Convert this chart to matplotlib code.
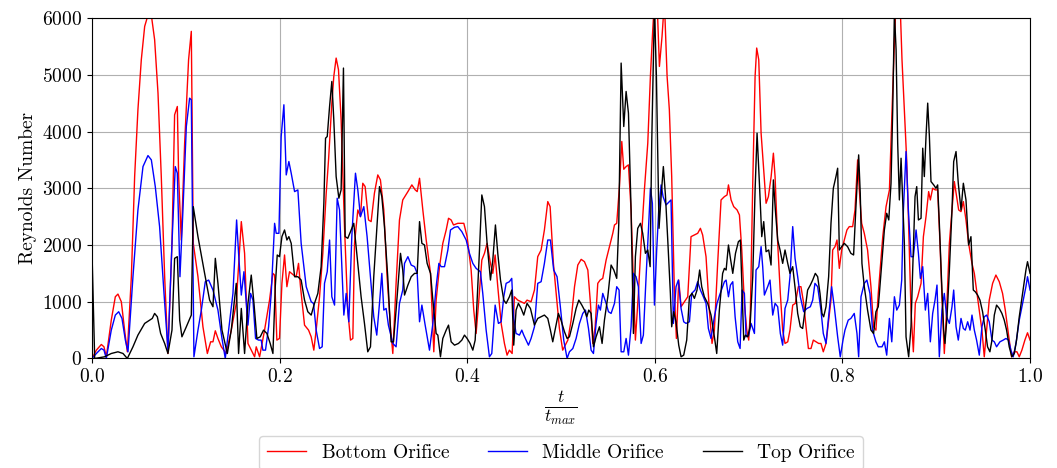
import matplotlib
matplotlib.use("Agg")
import matplotlib.pyplot as plt

plt.rcParams['font.family'] = 'serif'
plt.rcParams['font.serif'] = ['cmr10']
plt.rcParams['mathtext.fontset'] = 'cm'
plt.rcParams['axes.formatter.use_mathtext'] = True
plt.rcParams['font.size'] = 14

# Reynolds number at the three orifices vs normalised time
t_bottom = [0.0, 0.0047, 0.0100, 0.0128, 0.0153, 0.0206, 0.0249, 0.0277, 0.0313, 0.0348,
            0.0377, 0.042, 0.0455, 0.049, 0.0526, 0.0562, 0.0597, 0.0633, 0.0668, 0.0704,
            0.0739, 0.0775, 0.081, 0.0853, 0.0881, 0.091, 0.0924, 0.0952, 0.0988, 0.103,
            0.1059, 0.108, 0.113, 0.1183, 0.123, 0.1265, 0.129, 0.1315, 0.1343, 0.1379,
            0.1432, 0.1485, 0.1538, 0.1592,
            0.1627, 0.1663, 0.1698, 0.1734, 0.1751, 0.1787, 0.184, 0.1893, 0.1929, 0.1947,
            0.1971, 0.1999, 0.2025, 0.2053, 0.2078, 0.2106, 0.2149, 0.2177, 0.2202, 0.2223,
            0.2266, 0.2309, 0.2337, 0.2365, 0.239, 0.2426, 0.2461, 0.2497, 0.2522, 0.2557,
            0.2578, 0.2603, 0.2628, 0.2656, 0.2692, 0.2727, 0.2756, 0.2781, 0.2799, 0.2834,
            0.2862, 0.2887, 0.2912, 0.2948, 0.2976, 0.3011, 0.3047, 0.3075, 0.3111, 0.3146,
            0.3182, 0.3207, 0.3242, 0.3278, 0.3313,
            0.3368, 0.341, 0.3446, 0.3467, 0.3492, 0.3527, 0.3563, 0.3609, 0.3644, 0.3669,
            0.3705, 0.374, 0.3776, 0.3801, 0.3829, 0.3854, 0.39, 0.3964, 0.3999, 0.4042,
            0.407, 0.4095, 0.4124, 0.4156, 0.4184, 0.4212, 0.4248, 0.4273, 0.4298, 0.4326,
            0.4362, 0.4397, 0.4425, 0.445, 0.4479, 0.4503, 0.4539, 0.4575, 0.461, 0.4638,
            0.4681, 0.4717, 0.4752, 0.4788, 0.4823, 0.4859, 0.4884, 0.4919, 0.4955, 0.4983,
            0.5018,
            0.5073, 0.5108, 0.5144, 0.5179, 0.5215, 0.525, 0.5286, 0.5314, 0.5339, 0.5364,
            0.5392, 0.5417, 0.5445, 0.5481, 0.5516, 0.5552, 0.557, 0.5594, 0.5623, 0.5648,
            0.5669, 0.5694, 0.5719, 0.5747, 0.5772, 0.5793, 0.5825, 0.5854, 0.5889, 0.5925,
            0.5953, 0.5978, 0.5996, 0.6024, 0.6049, 0.6077, 0.6102, 0.6131, 0.6155, 0.618,
            0.6209, 0.623, 0.6255, 0.628, 0.6315, 0.6351, 0.6386, 0.6422, 0.6457, 0.6486,
            0.651, 0.6546, 0.6581, 0.661, 0.6635, 0.667, 0.6706,
            0.6742, 0.677, 0.6785, 0.6813, 0.6841, 0.6877, 0.6902, 0.6927, 0.6955, 0.698,
            0.7001, 0.7019, 0.7044, 0.7069, 0.7086, 0.7108, 0.7133, 0.7161, 0.7186, 0.7211,
            0.724, 0.7264, 0.7282, 0.731, 0.7338, 0.7363, 0.7388, 0.7417, 0.7441, 0.747,
            0.7498, 0.753, 0.7558, 0.7587, 0.7612, 0.7637, 0.7665, 0.769, 0.7718, 0.7747,
            0.7771, 0.7796, 0.7825, 0.7853, 0.7878, 0.7896, 0.7921, 0.7942, 0.7967, 0.7992,
            0.802, 0.8048, 0.8073, 0.8109, 0.8134, 0.8162, 0.818, 0.8205, 0.8233, 0.8268,
            0.8304, 0.8332, 0.8357, 0.8382,
            0.843, 0.8465, 0.8501, 0.8529, 0.8554, 0.8572, 0.8614, 0.8635, 0.866, 0.8685,
            0.8706, 0.8731, 0.8756, 0.8777, 0.8802, 0.8838, 0.8863, 0.8891, 0.8919, 0.8937,
            0.8962, 0.899, 0.9015, 0.904, 0.9061, 0.9086, 0.9111, 0.914, 0.9168, 0.9193,
            0.9218, 0.9239, 0.9264, 0.9289, 0.9317, 0.9345, 0.9381, 0.9406, 0.943, 0.9459,
            0.9487, 0.9512, 0.9537, 0.9565, 0.9601, 0.9636, 0.9672, 0.9707, 0.9736, 0.9771,
            0.9803, 0.9832, 0.986, 0.9885, 0.9913, 0.9945, 0.9973, 1.0]
re_bottom = [0, 147, 247, 206, 30, 676, 1088, 1135, 1000, 500,
             118, 1441, 3206, 4382, 5265, 5853, 6050, 6050, 5618, 4676,
             3206, 1441, 88, 2030, 4294, 4441, 3206, 2088, 3794, 5265,
             5765, 2030, 1441, 559, 88, 294, 294, 488, 353, 206,
             88, 500, 970, 2412,
             1853, 265, 147, 30, 206, 30, 500, 1029, 1500, 1470,
             324, 353, 1324, 1824, 1265, 1529, 1470, 1441, 1676, 1265,
             588, 500, 382, 147, 500, 1088, 1853, 2912, 3500, 4500,
             4971, 5294, 5088, 4206, 2324, 853, 324, 353, 2030, 2618,
             2500, 3088, 3029, 2441, 2412, 2912, 3235, 3147, 2618, 1441,
             559, 88, 1324, 2441, 2794,
             2941, 3059, 2971, 2941, 3176, 2618, 2088, 1500, 118, 1029,
             1618, 2029, 2265, 2471, 2441, 2353, 2382, 2382, 2147, 1559,
             853, 441, 1029, 1735, 1853, 2029, 1676, 1500, 1824, 1265,
             618, 265, 59, 147, 88, 1088, 1029, 1000, 971, 1029,
             1000, 1206, 1794, 1912, 2265, 2765, 2676, 1676, 1029, 529,
             147,
             324, 676, 1265, 1647, 1747, 1706, 1559, 971, 265, 559,
             1324, 1382, 1412, 1735, 1971, 2206, 2353, 2382, 3029, 3824,
             3335, 3382, 3412, 2618, 1324, 324, 1147, 2029, 2971, 3794,
             4971, 5794, 6300, 6300, 5147, 5676, 6300, 4971, 4382, 3206,
             1147, 353, 1382, 912, 1000, 1088, 2147, 2176, 2206, 2294,
             2176, 1794, 853, 265, 500, 1676, 2794,
             2853, 2882, 3059, 2794, 2676, 2618, 2529, 1912, 971, 500,
             324, 853, 3088, 4971, 5471, 5265, 3971, 3324, 2735, 2853,
             3206, 3618, 3206, 2029, 1147, 500, 265, 294, 500, 941,
             971, 1265, 1265, 971, 559, 176, 176, 324, 294, 265,
             265, 118, 265, 676, 1029, 1912, 1971, 2088, 1588, 1912,
             2088, 2265, 2324, 2324, 2618, 3500, 2971, 2382, 2206, 1912,
             1265, 559, 500, 1147,
             2147, 2676, 2971, 4382, 5559, 6300, 6300, 5265, 4382, 3500,
             2324, 853, 118, 971, 1088, 1324, 2147, 2500, 2941, 2794,
             3000, 2971, 2971, 2029, 1088, 88, 853, 2029, 2618, 3118,
             2853, 2618, 2588, 2765, 2441, 2029, 1676, 1500, 1206, 853,
             500, 30, 500, 1029, 1324, 1470, 1353, 1147, 853, 412,
             30, 118, 118, 30, 147, 324, 453, 324]

t_middle = [0.0, 0.0047, 0.01, 0.0128, 0.0153, 0.0206, 0.0249, 0.0285, 0.032, 0.0356,
            0.0384, 0.0437, 0.049, 0.0544, 0.0597, 0.0633, 0.0675, 0.0721, 0.0768, 0.081,
            0.0853, 0.0888, 0.091, 0.0938, 0.097, 0.1006, 0.1041, 0.1059, 0.1087, 0.113,
            0.1166, 0.1208, 0.1244, 0.129, 0.1343, 0.1386, 0.1421, 0.1457, 0.1503, 0.1542,
            0.1563, 0.1592, 0.162,
            0.1663, 0.1691, 0.1716, 0.1744, 0.1776, 0.1804, 0.1822, 0.185, 0.1883, 0.1911,
            0.1947, 0.1964, 0.1993, 0.2017, 0.2046, 0.2071, 0.2099, 0.2124, 0.216, 0.2195,
            0.223, 0.2284, 0.2337, 0.2362, 0.239, 0.2426, 0.2454, 0.2479, 0.2508, 0.2533,
            0.2557, 0.2586, 0.2614, 0.2639, 0.2685, 0.271, 0.2738, 0.277, 0.2809, 0.2834,
            0.2862, 0.2898, 0.2933, 0.2969, 0.3004, 0.3036, 0.3065, 0.309, 0.3111, 0.3136,
            0.316, 0.3207, 0.3242, 0.3278, 0.3313,
            0.3332, 0.3368, 0.3403, 0.3439, 0.3467, 0.3492, 0.3517, 0.3552, 0.3598, 0.3634,
            0.3669, 0.3698, 0.3723, 0.3758, 0.3794, 0.3822, 0.3865, 0.39, 0.3943, 0.3989,
            0.4024, 0.406, 0.4095, 0.4141, 0.4166, 0.4202, 0.4237, 0.4262, 0.4298, 0.4333,
            0.4362, 0.439, 0.4415, 0.445, 0.4475, 0.4496, 0.4521, 0.4557, 0.4582, 0.4603,
            0.4628, 0.4653, 0.4681, 0.4717, 0.4752, 0.4788, 0.4823, 0.4859, 0.4887, 0.4922,
            0.4958, 0.4993, 0.5029,
            0.5065, 0.509, 0.5126, 0.5161, 0.5197, 0.5232, 0.5261, 0.5293, 0.5321, 0.5346,
            0.5374, 0.5399, 0.542, 0.5445, 0.5481, 0.5506, 0.5534, 0.557, 0.5594, 0.5619,
            0.5641, 0.5669, 0.5694, 0.5719, 0.5747, 0.5772, 0.58, 0.5825, 0.5854, 0.5878,
            0.5907, 0.5932, 0.5953, 0.5974, 0.5996, 0.602, 0.6042, 0.6067, 0.6088, 0.612,
            0.6155, 0.6173, 0.6198, 0.6226, 0.6251, 0.628, 0.6308, 0.6333, 0.6369, 0.6393,
            0.6429, 0.6457, 0.6486, 0.651, 0.6546, 0.6571, 0.6599, 0.6635, 0.6663, 0.6691,
            0.6723,
            0.6742, 0.676, 0.6785, 0.6806, 0.6831, 0.6856, 0.6884, 0.6909, 0.693, 0.6955,
            0.6973, 0.7001, 0.7026, 0.7062, 0.7079, 0.7108, 0.7133, 0.715, 0.7168, 0.7203,
            0.7228, 0.7257, 0.7282, 0.731, 0.7338, 0.7363, 0.7388, 0.7417, 0.7441, 0.747,
            0.7495, 0.7523, 0.7551, 0.7587, 0.7622, 0.7658, 0.7683, 0.7707, 0.7736, 0.7771,
            0.7796, 0.7825, 0.7849, 0.7885, 0.7913, 0.7949, 0.7977, 0.8006, 0.8027, 0.8062,
            0.809, 0.8126, 0.8155, 0.8173, 0.8198, 0.8233, 0.8261, 0.8293, 0.8321, 0.8357,
            0.8382,
            0.8422, 0.8447, 0.8472, 0.8501, 0.8526, 0.8554, 0.8579, 0.8607, 0.8632, 0.865,
            0.8678, 0.8703, 0.8731, 0.8756, 0.8785, 0.881, 0.8831, 0.8856, 0.8884, 0.8909,
            0.8937, 0.8962, 0.8987, 0.9008, 0.9033, 0.9061, 0.9086, 0.9111, 0.914, 0.9168,
            0.9186, 0.9211, 0.9235, 0.9264, 0.9289, 0.931, 0.9335, 0.936, 0.9381, 0.9406,
            0.943, 0.9459, 0.9487, 0.9512, 0.9537, 0.9565, 0.9594, 0.9619, 0.9643, 0.9679,
            0.9714, 0.9743, 0.9771, 0.9796, 0.9821, 0.985, 0.9885, 0.9921, 0.9956, 0.9973,
            1.0]
re_middle = [0, 88, 176, 147, 0, 500, 765, 824, 706, 324,
             118, 1441, 2618, 3382, 3576, 3500, 3029, 2324, 1147, 147,
             2030, 3382, 3265, 1441, 2618, 4088, 4588, 4559, 30, 500,
             853, 1353, 1382, 1206, 853, 353, 0, 500, 1147, 2441,
             1853, 1118, 1529,
             588, 1147, 1029, 353, 324, 324, 147, 147, 559, 1147,
             2382, 2206, 2206, 3912, 4471, 3235, 3471, 3265, 2941, 2971,
             2029, 1265, 1000, 971, 500, 176, 206, 1324, 1529, 2088,
             1088, 941, 2824, 2618, 765, 1147, 647, 2147, 3265, 2971,
             2500, 2676, 2147, 1441, 735, 412, 971, 1500, 853, 882,
             588, 265, 206, 971, 1206,
             1676, 1794, 1647, 1618, 1500, 647, 941, 588, 147, 618,
             1265, 1676, 1618, 1618, 1912, 2265, 2312, 2324, 2235, 2088,
             1853, 1676, 1588, 1529, 1147, 500, 30, 88, 941, 618,
             647, 1088, 1324, 1353, 1412, 706, 441, 412, 500, 412,
             324, 235, 353, 559, 1324, 1353, 1676, 2088, 2088, 1559,
             1441, 912, 324,
             0, 118, 176, 353, 618, 794, 853, 529, 147, 88,
             618, 941, 853, 1147, 971, 824, 794, 971, 1265, 1206,
             118, 118, 353, 59, 559, 1500, 1441, 1265, 265, 412,
             1441, 2265, 3000, 2735, 941, 1912, 2618, 3059, 2853, 2706,
             2765, 2794, 618, 1265, 1382, 882, 647, 618, 647, 1147,
             1206, 1353, 1206, 1118, 971, 529, 353, 735, 971, 1118,
             1265,
             1353, 1382, 1088, 1294, 1353, 735, 294, 176, 1206, 1147,
             382, 412, 618, 441, 1559, 1618, 1971, 1618, 1118, 1265,
             1382, 765, 971, 912, 441, 235, 882, 1029, 1441, 2324,
             1765, 1441, 1088, 824, 882, 912, 1029, 1324, 1265, 853,
             441, 265, 676, 1265, 912, 382, 30, 324, 500, 676,
             706, 794, 441, 30, 1088, 1324, 1382, 1147, 500, 294,
             206,
             206, 294, 59, 706, 294, 1088, 853, 941, 1382, 2618,
             3647, 2618, 1794, 1794, 2265, 1853, 1412, 1618, 853, 1147,
             294, 794, 1029, 1294, 30, 853, 1147, 735, 618, 912,
             1206, 559, 324, 706, 529, 500, 647, 500, 765, 500,
             324, 59, 559, 735, 765, 647, 324, 294, 206, 294,
             324, 353, 324, 147, 30, 265, 676, 971, 1265, 1441,
             1206]

t_top = [0.0, 0.0029, 0.0135, 0.0206, 0.0277, 0.0331, 0.0377, 0.0437, 0.049, 0.0562,
         0.0615, 0.0643, 0.0668, 0.0697, 0.0732, 0.0775, 0.081, 0.0853, 0.0881, 0.091,
         0.0935, 0.0959, 0.1006, 0.1059, 0.108, 0.113, 0.1201, 0.1254, 0.129, 0.1315,
         0.1343, 0.1386, 0.1443, 0.1485, 0.1538, 0.1563, 0.1592,
         0.1627, 0.1663, 0.1698, 0.1727, 0.1758, 0.1794, 0.1829, 0.1865, 0.19, 0.1929,
         0.1954, 0.1975, 0.1999, 0.2025, 0.2053, 0.2078, 0.2099, 0.2124, 0.216, 0.2195,
         0.223, 0.2266, 0.2301, 0.2337, 0.2372, 0.2408, 0.2443, 0.2472, 0.249, 0.2508,
         0.2533, 0.2557, 0.2578, 0.2603, 0.2632, 0.2656, 0.2681, 0.2699, 0.2727, 0.2756,
         0.2791, 0.2834, 0.2869, 0.2905, 0.294, 0.2969, 0.3004, 0.304, 0.3065, 0.309,
         0.3118, 0.3153, 0.3189, 0.3214, 0.3242, 0.3289, 0.3313,
         0.3332, 0.3368, 0.3403, 0.3439, 0.3467, 0.3492, 0.3517, 0.3545, 0.3573, 0.3609,
         0.3634, 0.3669, 0.3687, 0.3715, 0.374, 0.3776, 0.3801, 0.3829, 0.3865, 0.3907,
         0.3943, 0.3971, 0.3999, 0.4031, 0.406, 0.4085, 0.4106, 0.4131, 0.4156, 0.4184,
         0.4212, 0.4248, 0.4273, 0.4301, 0.4326, 0.4355, 0.439, 0.4415, 0.445, 0.4475,
         0.4496, 0.4521, 0.4546, 0.4575, 0.4603, 0.4638, 0.4674, 0.4717, 0.4752, 0.4788,
         0.4823, 0.4859, 0.4887, 0.4912, 0.4937, 0.4972, 0.5,
         0.5037, 0.5065, 0.509, 0.5126, 0.5161, 0.519, 0.5222, 0.525, 0.5275, 0.5296,
         0.5321, 0.5346, 0.5374, 0.541, 0.5438, 0.5463, 0.5499, 0.5534, 0.5563, 0.5594,
         0.5616, 0.5641, 0.5669, 0.5694, 0.5719, 0.5747, 0.5772, 0.5793, 0.5818, 0.5847,
         0.5871, 0.59, 0.5925, 0.595, 0.5967, 0.5996, 0.6017, 0.6045, 0.6067, 0.6091,
         0.6113, 0.6138, 0.6166, 0.618, 0.6201, 0.6226, 0.6255, 0.628, 0.6308, 0.634,
         0.6369, 0.6397, 0.6422, 0.645, 0.6478, 0.65, 0.6528, 0.6564, 0.6599, 0.6635,
         0.666, 0.6688, 0.6723,
         0.6742, 0.676, 0.6785, 0.6806, 0.6831, 0.686, 0.6891, 0.6912, 0.693, 0.6948,
         0.6966, 0.6991, 0.7015, 0.7044, 0.7069, 0.709, 0.7115, 0.714, 0.7161, 0.7186,
         0.7214, 0.7239, 0.7264, 0.7285, 0.731, 0.7335, 0.7363, 0.7388, 0.7417, 0.7441,
         0.747, 0.7498, 0.7523, 0.7551, 0.7576, 0.7601, 0.7629, 0.7658, 0.7683, 0.7711,
         0.7736, 0.7761, 0.7782, 0.78, 0.7825, 0.7853, 0.7878, 0.7903, 0.7931, 0.7949,
         0.7967, 0.7992, 0.802, 0.8055, 0.809, 0.8119, 0.8144, 0.8173, 0.819, 0.8208,
         0.8233, 0.8268, 0.8304, 0.8332, 0.8357, 0.8382,
         0.8394, 0.8422, 0.8447, 0.8472, 0.8494, 0.8518, 0.8536, 0.8554, 0.8572, 0.8589,
         0.8607, 0.8625, 0.8643, 0.866, 0.8678, 0.8706, 0.8731, 0.8749, 0.8774, 0.8792,
         0.881, 0.8838, 0.8856, 0.8873, 0.8891, 0.8909, 0.8927, 0.8944, 0.8973, 0.8997,
         0.9015, 0.9033, 0.9058, 0.9079, 0.9093, 0.9115, 0.914, 0.9168, 0.9186, 0.9211,
         0.9235, 0.9264, 0.9289, 0.9317, 0.9345, 0.937, 0.9395, 0.9416, 0.9441, 0.9466,
         0.9494, 0.9523, 0.9547, 0.9572, 0.9594, 0.9619, 0.9643, 0.9672, 0.97, 0.9725,
         0.975, 0.9778, 0.9806, 0.9832, 0.9856, 0.9885, 0.9921, 0.9956, 0.9973, 1.0]
re_top = [1900, 0, 30, 88, 118, 88, 0, 206, 412, 618,
          676, 706, 794, 735, 441, 265, 88, 500, 1765, 1794,
          676, 382, 559, 765, 2676, 2147, 1500, 1029, 912, 1765,
          1324, 500, 88, 500, 1324, 88, 882,
          88, 971, 1470, 971, 353, 382, 500, 441, 265, 88,
          1265, 1824, 1794, 2147, 2265, 2088, 2147, 2029, 1441, 1441,
          1382, 1029, 824, 765, 971, 1147, 1618, 2735, 3882, 3912,
          4441, 4882, 4206, 3206, 2824, 2971, 5118, 2147, 2118, 2235,
          2382, 1676, 1088, 618, 118, 206, 1441, 2382, 3029, 2853,
          2324, 1441, 294, 294, 853, 1853, 1559,
          1118, 1294, 1441, 1500, 1500, 2412, 2029, 2000, 1676, 1500,
          1029, 441, 412, 30, 353, 500, 588, 294, 235, 265,
          324, 412, 353, 265, 147, 324, 1029, 1912, 2882, 2676,
          2029, 1382, 1735, 2353, 1853, 1382, 1029, 971, 1088, 1206,
          235, 853, 971, 882, 765, 971, 882, 588, 706, 735,
          765, 706, 500, 294, 500, 794, 676,
          471, 353, 382, 618, 882, 1029, 941, 853, 735, 853,
          794, 206, 382, 559, 265, 676, 1088, 1647, 1559, 1412,
          2382, 5206, 4088, 4706, 4324, 2618, 441, 1794, 2294, 2382,
          2206, 1853, 1912, 1618, 3794, 6200, 4971, 2294, 2853, 3382,
          2882, 2088, 1147, 559, 824, 647, 235, 30, 59, 324,
          1088, 1147, 1059, 1206, 1559, 1265, 1088, 971, 765, 382,
          88, 853, 1500,
          1588, 1559, 2000, 1765, 1500, 1853, 2059, 2088, 1206, 324,
          412, 382, 559, 1441, 2971, 3971, 3088, 2147, 2412, 1882,
          1912, 1647, 3147, 2618, 2088, 1912, 1676, 1912, 1676, 1500,
          1618, 1206, 794, 559, 529, 853, 1206, 1294, 1382, 1500,
          1441, 1147, 794, 735, 912, 1441, 2382, 3000, 3206, 3353,
          1912, 1971, 2029, 1971, 1853, 1824, 2676, 3588, 2912, 1676,
          1265, 853, 500, 441, 824, 912,
          1147, 1735, 2265, 2559, 2441, 3088, 4382, 6100, 5441, 3794,
          2794, 3529, 2735, 2029, 382, 30, 559, 1559, 2853, 3029,
          2441, 2471, 3706, 3206, 3912, 4500, 3912, 3118, 3059, 3000,
          3059, 2382, 1324, 500, 265, 735, 1559, 2618, 3471, 3647,
          3088, 2618, 3088, 2794, 2000, 2147, 1206, 1176, 1118, 1029,
          824, 500, 206, 118, 324, 765, 941, 882, 794, 676,
          500, 206, 30, 88, 324, 735, 1147, 1559, 1706, 1500]

fig, ax = plt.subplots(figsize=(10.57, 4.68), dpi=100)
fig.subplots_adjust(left=0.087, right=0.9745, top=0.9615, bottom=0.234)

ax.plot(t_bottom, re_bottom, color='red', linewidth=1.0, label='Bottom Orifice')
ax.plot(t_middle, re_middle, color='blue', linewidth=1.0, label='Middle Orifice')
ax.plot(t_top, re_top, color='black', linewidth=1.0, label='Top Orifice')

ax.set_xlim(0, 1)
ax.set_ylim(0, 6000)
ax.set_xticks([0.0, 0.2, 0.4, 0.6, 0.8, 1.0])
ax.set_yticks([0, 1000, 2000, 3000, 4000, 5000, 6000])
ax.grid(True)
ax.set_xlabel(r'$\frac{t}{t_{max}}$', fontsize=18, labelpad=2)
ax.set_ylabel('Reynolds Number')
ax.legend(loc='upper center', bbox_to_anchor=(0.5, -0.199), ncol=3)

fig.savefig('out.png', dpi=100)
